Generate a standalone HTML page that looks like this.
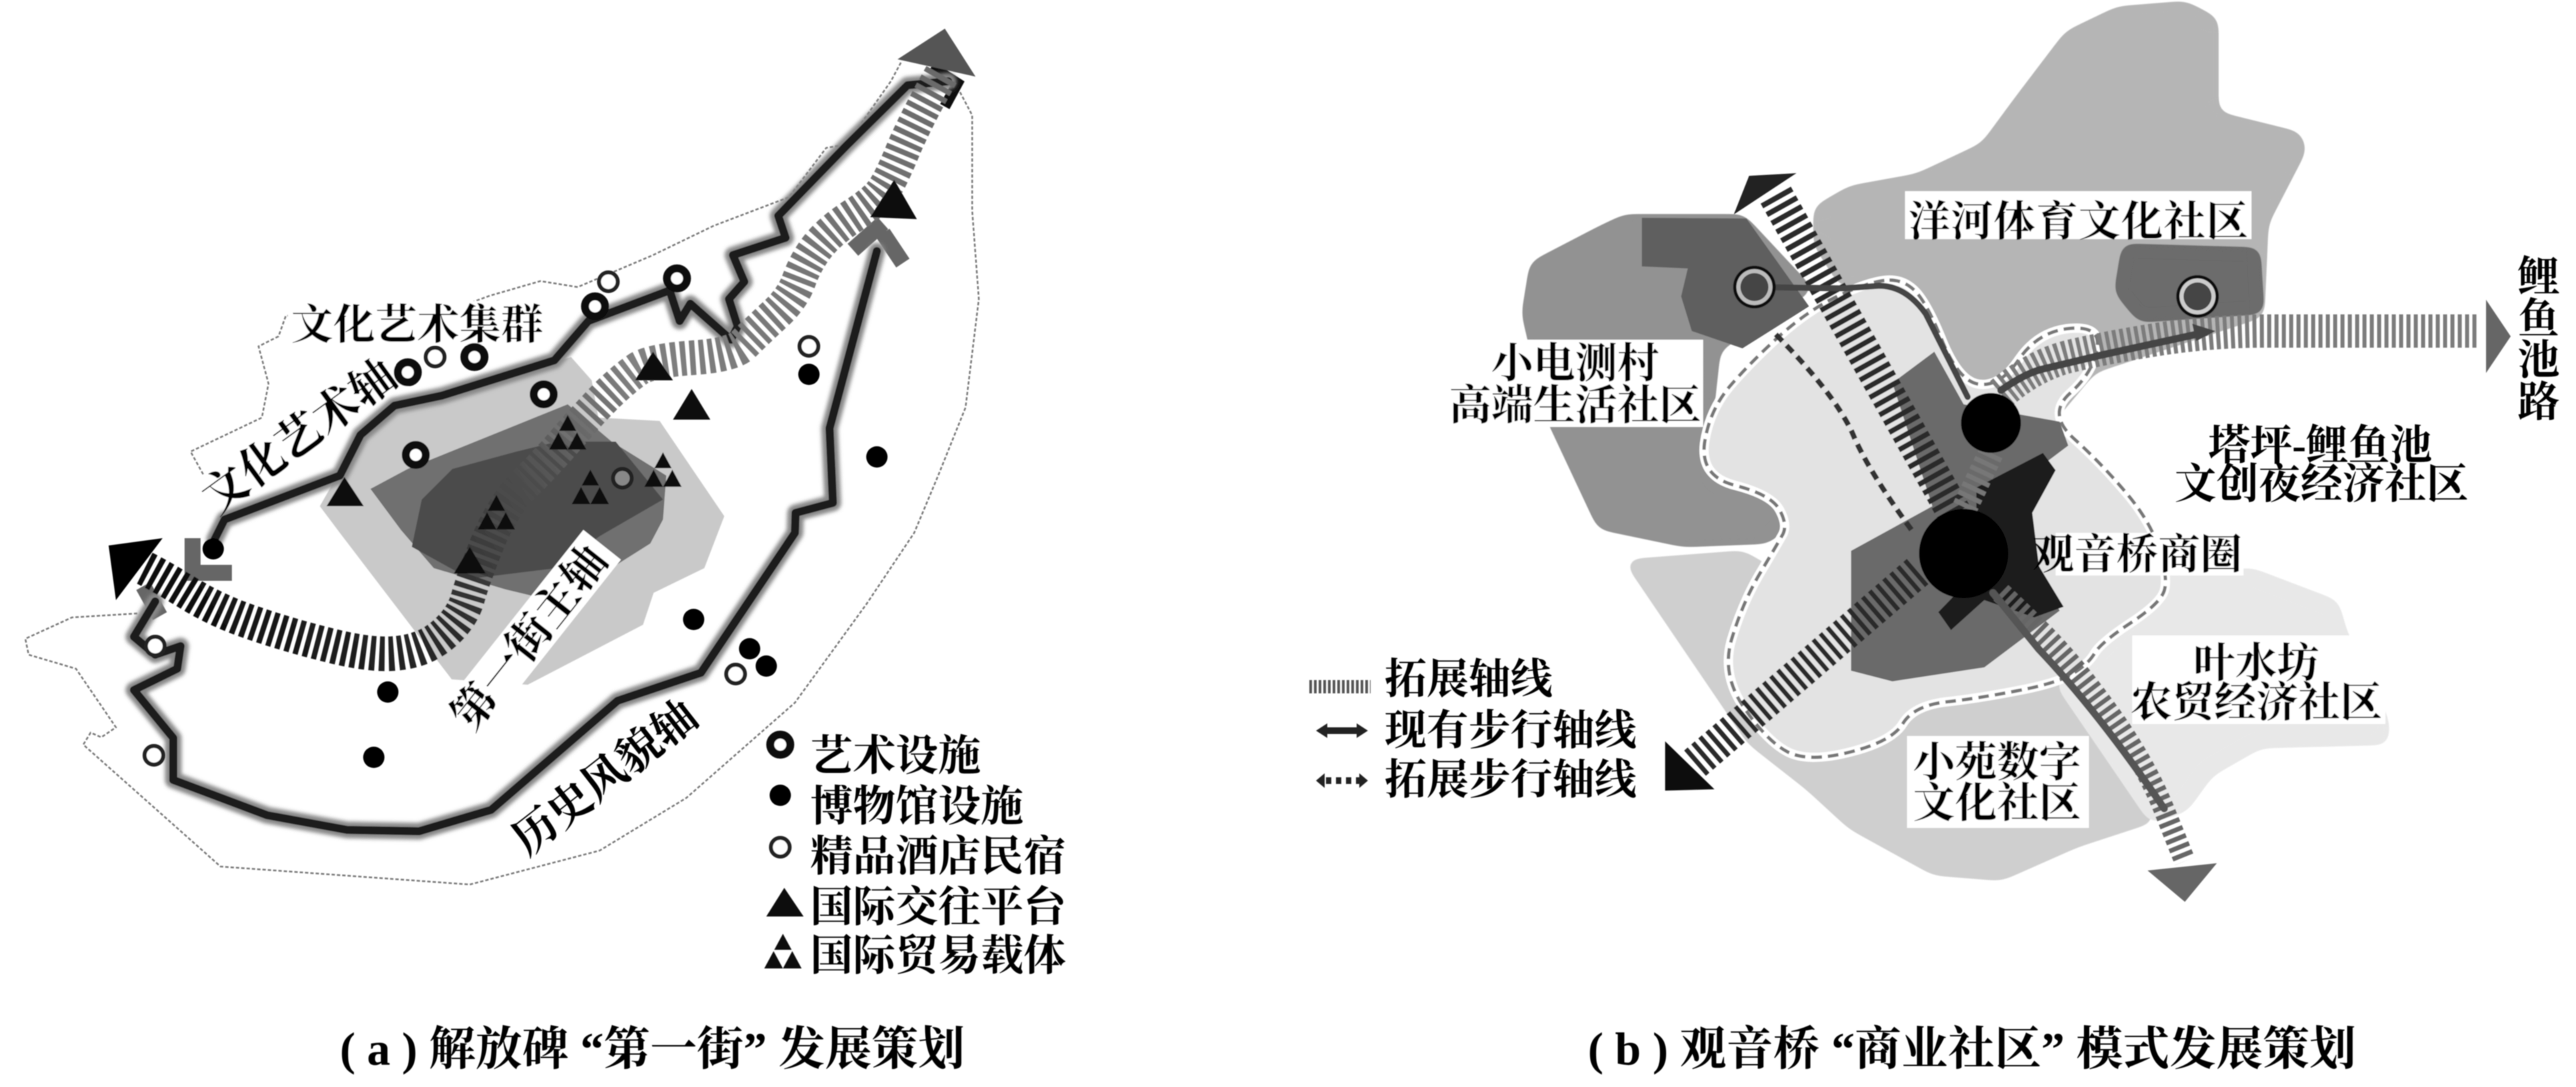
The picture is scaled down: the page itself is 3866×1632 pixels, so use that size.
<!DOCTYPE html>
<html lang="zh"><head><meta charset="utf-8"><title>发展策划</title>
<style>
html,body{margin:0;padding:0;background:#fff}
svg{display:block}
text{font-family:"Liberation Serif","Noto Serif CJK SC",serif;font-weight:700;fill:#000}
.c{text-anchor:middle;dominant-baseline:central}
.l{dominant-baseline:central}
</style></head><body>
<svg xmlns="http://www.w3.org/2000/svg" width="3866" height="1632" viewBox="0 0 3866 1632">
<defs>
<linearGradient id="ga" gradientUnits="userSpaceOnUse" x1="1413" y1="112" x2="217" y2="853">
<stop offset="0" stop-color="#6a6a6a"/><stop offset=".45" stop-color="#808080"/><stop offset=".62" stop-color="#4a4a4a"/><stop offset=".75" stop-color="#2c2c2c"/><stop offset="1" stop-color="#0c0c0c"/>
</linearGradient>
<g id="tf"><path d="M0-32L-13-8H13ZM-14-6L-28 20H0ZM14-6L0 20H28Z" fill="#111"/></g>
<filter id="goo" x="-5%" y="-5%" width="110%" height="110%">
<feGaussianBlur stdDeviation="11"/>
<feColorMatrix type="matrix" values="1 0 0 0 0 0 1 0 0 0 0 0 1 0 0 0 0 0 20 -9"/>
</filter>
<filter id="soft" filterUnits="userSpaceOnUse" x="0" y="0" width="3866" height="1632"><feGaussianBlur stdDeviation="0.7"/></filter>
<filter id="halo" filterUnits="userSpaceOnUse" x="0" y="0" width="3866" height="1632"><feGaussianBlur stdDeviation="3"/></filter>
</defs>
<rect width="3866" height="1632" fill="#fff"/>
<g filter="url(#soft)">

<!-- LEFT PANEL regions -->
<path d="M857 536L888 571 898 627 990 632 1087 775 1057 853 981 890 965 938 792 1028 678 1020 510 800 480 760 541 653 592 617 673 597Z" fill="#c9c9c9"/>
<path d="M852 607L612 704 556 734 602 796 651 853 759 885 846 906 900 864 976 816 995 780 1000 714 918 663Z" fill="#707070"/>
<path d="M679 704L775 678 837 663 924 663 995 750 900 805 835 853 705 869 618 821 633 750Z" fill="#4b4b4b"/>

<!-- boundary -->
<path d="M1352 94L1337 122 1270 217 1240 222 1184 296 1071 339 980 383 867 431 811 422 735 444 653 474 429 474 418 505 388 520 403 576 393 627 286 678 306 714 337 765M206 921L108 927 38 959 43 983 114 1004 174 1092 152 1107 136 1100 125 1118 331 1301 705 1328 900 1277 1030 1198 1193 1055 1301 906 1372 800 1408 714 1449 612 1469 449 1459 316 1459 173 1439 135" fill="none" stroke="#777" stroke-width="2.5" stroke-dasharray="5 3"/>

<!-- white label bands -->
<g fill="#fff">
<rect x="-180" y="-36" width="360" height="72" transform="translate(449 655) rotate(-36)"/>
<rect x="-175" y="-36" width="350" height="72" transform="translate(795 955) rotate(-51.6)"/>
<rect x="432" y="452" width="390" height="66"/>
</g>

<!-- gray L marks -->
<g fill="none" stroke="#666" stroke-width="24">
<path d="M1325 335L1280 375M1325 350L1355 395"/>
<path d="M289 808V860H348"/>
<path d="M215 880L240 925"/>
</g>
<path d="M1398 100L1437 125 1418 160" fill="none" stroke="#111" stroke-width="16"/>

<!-- axes solid -->
<g fill="none" stroke-linejoin="round" stroke-linecap="round">
<g filter="url(#halo)" stroke="#888" stroke-width="25">
<path d="M1423 122L1362 128 1270 219 1168 324 1179 357 1100 383 1117 423 1094 449 1107 490 1097 510 1036 456 1020 482 1005 436 883 482 832 541 663 594 592 609 541 653 510 714 337 780 322 810"/>
<path d="M1316 377L1245 643 1250 755 1194 770 1193 800 1052 1010 927 1052 737 1216 629 1248 521 1246 401 1224 260 1171 260 1108 201 1036 266 1004 271 970 233 983 201 956 233 903"/>
</g>
<path d="M1423 122L1362 128 1270 219 1168 324 1179 357 1100 383 1117 423 1094 449 1107 490 1097 510 1036 456 1020 482 1005 436 883 482 832 541 663 594 592 609 541 653 510 714 337 780 322 810" stroke="#1c1c1c" stroke-width="12"/>
<path d="M1316 377L1245 643 1250 755 1194 770 1193 800 1052 1010 927 1052 737 1216 629 1248 521 1246 401 1224 260 1171 260 1108 201 1036 266 1004 271 970 233 983 201 956 233 903" stroke="#1c1c1c" stroke-width="12"/>
</g>

<!-- main hatched axis -->
<path d="M1413 112Q1378 173 1357 221Q1337 270 1326 285Q1316 301 1280 324Q1245 347 1227 370Q1209 393 1199 421Q1189 449 1161 474Q1133 500 1117 516Q1102 533 1041 537Q980 541 959 553Q939 566 908 596Q878 627 847 663Q816 699 785 729Q755 760 732 814Q710 869 702 898Q694 927 667 951Q640 975 602 980Q564 986 499 970Q434 954 379 935Q325 917 282 890Q239 864 217 853" fill="none" stroke="url(#ga)" stroke-width="52" stroke-dasharray="8 6"/>

<!-- arrows left -->
<path d="M1418 43L1347 89 1464 115Z" fill="#555"/>
<path d="M163 819L244 808 174 901Z" fill="#000"/>

<!-- triangles -->
<g fill="#111">
<path d="M980 528L953 571H1010Z"/><path d="M1038 584L1010 630H1066Z"/><path d="M517 716L490 760H546Z"/>
<path d="M1342 270L1306 326 1376 329Z"/><path d="M705 821L681 861H729Z"/><path d="M1177 1333L1150 1376H1206Z"/>
</g>
<use href="#tf" x="852" y="655"/><use href="#tf" x="886" y="737"/><use href="#tf" x="995" y="711"/><use href="#tf" x="745" y="775"/><use href="#tf" x="1175" y="1434"/>

<!-- circles -->
<g fill="#fff" stroke="#111" stroke-width="12">
<circle cx="1016" cy="418" r="15"/><circle cx="893" cy="460" r="15"/><circle cx="612" cy="559" r="15"/><circle cx="712" cy="536" r="15"/><circle cx="816" cy="592" r="15"/><circle cx="624" cy="683" r="15"/><circle cx="1171" cy="1118" r="15"/>
</g>
<g fill="#fff" stroke="#222" stroke-width="6">
<circle cx="913" cy="423" r="14"/><circle cx="653" cy="536" r="14"/><circle cx="1214" cy="520" r="14"/><circle cx="233" cy="970" r="14"/><circle cx="231" cy="1134" r="14"/><circle cx="1104" cy="1012" r="14"/><circle cx="1171" cy="1272" r="14"/>
<circle cx="934" cy="718" r="14" fill="#888"/>
</g>
<g fill="#000">
<circle cx="1214" cy="562" r="16"/><circle cx="1316" cy="686" r="16"/><circle cx="320" cy="824" r="16"/><circle cx="1041" cy="930" r="16"/><circle cx="1125" cy="974" r="16"/><circle cx="1150" cy="1000" r="16"/><circle cx="582" cy="1039" r="16"/><circle cx="561" cy="1137" r="16"/><circle cx="1171" cy="1194" r="16"/>
</g>

<!-- left labels -->
<text class="l" x="437" y="488" font-size="63">文化艺术集群</text>
<text class="c" font-size="68" transform="translate(449 655) rotate(-36)">文化艺术轴</text>
<text class="c" font-size="66" transform="translate(795 958) rotate(-51.6)">第一街主轴</text>
<text class="c" font-size="66" transform="translate(908 1168) rotate(-38)">历史风貌轴</text>
<g font-size="64">
<text class="l" x="1216" y="1135">艺术设施</text>
<text class="l" x="1216" y="1211">博物馆设施</text>
<text class="l" x="1216" y="1286">精品酒店民宿</text>
<text class="l" x="1216" y="1362">国际交往平台</text>
<text class="l" x="1216" y="1435">国际贸易载体</text>
</g>
<text class="l" x="510" y="1576" font-size="70" textLength="938" lengthAdjust="spacing">( a ) 解放碑 “第一街” 发展策划</text>

<!-- RIGHT PANEL regions -->
<path filter="url(#goo)" d="M2728 314L2778 285 2878 267 2978 220 3028 152 3104 52 3179 16 3279 8 3323 31 3323 173 3448 204 3455 225 3398 335 3392 471 3141 554 3079 628 2941 601 2890 450 2834 418 2765 424 2728 366Z" fill="#b5b5b5" stroke="#b5b5b5" stroke-width="12" stroke-linejoin="round"/>
<path filter="url(#goo)" d="M2439 327L2615 327 2715 434 2577 523 2565 633 2571 722 2665 748 2684 785 2652 811 2527 816 2402 790 2326 628 2289 471 2301 397 2401 345Z" fill="#929292" stroke="#929292" stroke-width="10" stroke-linejoin="round"/>
<path filter="url(#goo)" d="M2445 845L2615 832 2900 1000 3091 1028 3229 1230 3116 1267 3003 1317 2903 1309 2778 1240 2715 1182 2627 1113Z" fill="#cfcfcf" stroke="#cfcfcf" stroke-width="10" stroke-linejoin="round"/>
<path filter="url(#goo)" d="M3242 869L3379 858 3505 906 3517 949 3580 1081 3580 1113 3392 1118 3317 1161 3279 1214 3229 1230 3091 1028 3154 964Z" fill="#e8e8e8" stroke="#e8e8e8" stroke-width="10" stroke-linejoin="round"/>
<path d="M2464 327L2621 328 2715 460 2615 523 2539 497 2523 445 2533 403 2464 400Z" fill="#5f5f5f"/>
<path filter="url(#goo)" d="M3185 366L3392 372 3398 471 3210 484 3173 439Z" fill="#6c6c6c"/>

<!-- pale centre -->
<path d="M2828 421Q2803 424 2759 444Q2715 465 2671 504Q2627 544 2596 580Q2565 617 2558 666Q2552 716 2605 729Q2659 743 2671 766Q2684 790 2674 805Q2665 821 2640 863Q2615 906 2599 959Q2583 1012 2617 1062Q2652 1113 2683 1129Q2715 1145 2777 1129Q2840 1113 2856 1086Q2872 1060 2919 1054Q2966 1049 3028 1037Q3091 1025 3113 1010Q3135 996 3144 980Q3154 964 3198 935Q3242 906 3248 887Q3254 869 3241 827Q3229 785 3191 740Q3154 696 3113 659Q3072 622 3106 591Q3141 560 3147 524Q3154 489 3107 493Q3060 497 3031 538Q3003 580 2972 577Q2941 575 2915 512Q2890 450 2871 434Q2853 418 2828 421Z" fill="#e3e3e3" stroke="#fff" stroke-width="14" stroke-linejoin="round"/>
<path d="M2828 421Q2803 424 2759 444Q2715 465 2671 504Q2627 544 2596 580Q2565 617 2558 666Q2552 716 2605 729Q2659 743 2671 766Q2684 790 2674 805Q2665 821 2640 863Q2615 906 2599 959Q2583 1012 2617 1062Q2652 1113 2683 1129Q2715 1145 2777 1129Q2840 1113 2856 1086Q2872 1060 2919 1054Q2966 1049 3028 1037Q3091 1025 3113 1010Q3135 996 3144 980Q3154 964 3198 935Q3242 906 3248 887Q3254 869 3241 827Q3229 785 3191 740Q3154 696 3113 659Q3072 622 3106 591Q3141 560 3147 524Q3154 489 3107 493Q3060 497 3031 538Q3003 580 2972 577Q2941 575 2915 512Q2890 450 2871 434Q2853 418 2828 421Z" fill="none" stroke="#777" stroke-width="5" stroke-dasharray="16 9"/>

<!-- centre dark -->
<path d="M2903 528L2947 607 3091 633 3104 669 3010 740 3091 917 2978 1002 2840 1023 2778 1007 2778 827 2900 760 2840 575Z" fill="#6b6b6b"/>
<path d="M3066 680L3085 706 3050 770 3060 850 3097 911 3053 927 2978 901 2928 946 2909 919 2966 860 2966 732Z" fill="#1e1e1e"/>

<!-- walking dashed -->
<path d="M2665 502Q2753 591 2780 650Q2803 706 2872 800" fill="none" stroke="#333" stroke-width="8" stroke-dasharray="14 9"/>

<!-- hatched axes right -->
<g fill="none">
<path d="M3003 591Q3050 550 3102 536Q3154 523 3235 510Q3317 497 3400 497L3718 497" stroke="#7c7c7c" stroke-width="50" stroke-dasharray="6 5"/>
<path d="M2665 293L2941 785" stroke="#2c2c2c" stroke-width="52" stroke-dasharray="8 7"/>
<path d="M2878 858L2539 1150" stroke="#2c2c2c" stroke-width="50" stroke-dasharray="7 7"/>
<path d="M2988 680L2947 766" stroke="#777" stroke-width="38" stroke-dasharray="7 7"/>
<path d="M3003 890L3053 938Q3104 986 3160 1063Q3217 1140 3248 1216L3279 1293" stroke="#666" stroke-width="32" stroke-dasharray="7 6"/>
</g>
<!-- solid walking -->
<g fill="none" stroke="#444" stroke-width="9" stroke-linejoin="round" stroke-linecap="round">
<path d="M2633 431L2765 433 2820 429Q2860 429 2890 471L2953 596"/>
<path d="M3003 586Q3040 560 3066 554L3154 533 3310 499" stroke-width="11"/>
<path d="M2991 890L3060 975Q3150 1070 3248 1214" stroke="#555" stroke-width="11"/>
</g>
<path d="M3325 497L3290 486 3296 512Z" fill="#444"/>
<!-- arrows right -->
<path d="M2625 264L2696 260 2602 322Z" fill="#222"/>
<path d="M3731 450L3768 505 3731 560Z" fill="#666"/>
<path d="M2499 1113V1187L2573 1185Z" fill="#111"/>
<path d="M3223 1307L3327 1296 3279 1354Z" fill="#666"/>
<!-- hubs -->
<circle cx="2988" cy="635" r="45" fill="#000"/>
<circle cx="2947" cy="831" r="67" fill="#000"/>
<g>
<circle cx="2633" cy="431" r="32" fill="#111"/><circle cx="2633" cy="431" r="27" fill="#bbb"/><circle cx="2633" cy="431" r="21" fill="#444"/>
<circle cx="3298" cy="445" r="32" fill="#111"/><circle cx="3298" cy="445" r="27" fill="#ccc"/><circle cx="3298" cy="445" r="21" fill="#444"/>
</g>

<!-- label boxes -->
<g fill="#fff">
<rect x="2859" y="287" width="520" height="72"/>
<rect x="2173" y="510" width="383" height="131"/>
<rect x="3085" y="800" width="282" height="64"/>
<rect x="3200" y="954" width="380" height="133"/>
<rect x="2862" y="1105" width="273" height="138"/>
</g>

<!-- right labels -->
<g font-size="63">
<text class="c" x="3119" y="333" textLength="510">洋河体育文化社区</text>
<text class="c" x="2364" y="546">小电测村</text>
<text class="c" x="2364" y="609">高端生活社区</text>
<text class="c" x="3482" y="669">塔坪-鲤鱼池</text>
<text class="c" x="3484" y="727">文创夜经济社区</text>
<text class="l" x="3050" y="833">观音桥商圈</text>
<text class="c" x="3386" y="996">叶水坊</text>
<text class="c" x="3386" y="1055">农贸经济社区</text>
<text class="c" x="2997" y="1145">小苑数字</text>
<text class="c" x="2997" y="1206">文化社区</text>
<text class="c" x="3810" y="416">鲤</text>
<text class="c" x="3810" y="479">鱼</text>
<text class="c" x="3810" y="541">池</text>
<text class="c" x="3810" y="604">路</text>
<text class="l" x="2078" y="1020">拓展轴线</text>
<text class="l" x="2078" y="1097">现有步行轴线</text>
<text class="l" x="2078" y="1171">拓展步行轴线</text>
</g>
<!-- right legend icons -->
<path d="M1965 1031H2057" stroke="#555" stroke-width="20" stroke-dasharray="4 3" fill="none"/>
<path d="M1985 1097H2043" stroke="#222" stroke-width="10"/>
<path d="M1975 1097L1992 1086V1108ZM2053 1097L2036 1086V1108Z" fill="#222"/>
<path d="M1990 1172H2040" stroke="#222" stroke-width="10" stroke-dasharray="8 7"/>
<path d="M1975 1172L1988 1161V1183ZM2053 1172L2040 1161V1183Z" fill="#222"/>
<text class="l" x="2383" y="1576" font-size="70" textLength="1153" lengthAdjust="spacing">( b ) 观音桥 “商业社区” 模式发展策划</text>
</g>
</svg>
</body></html>
